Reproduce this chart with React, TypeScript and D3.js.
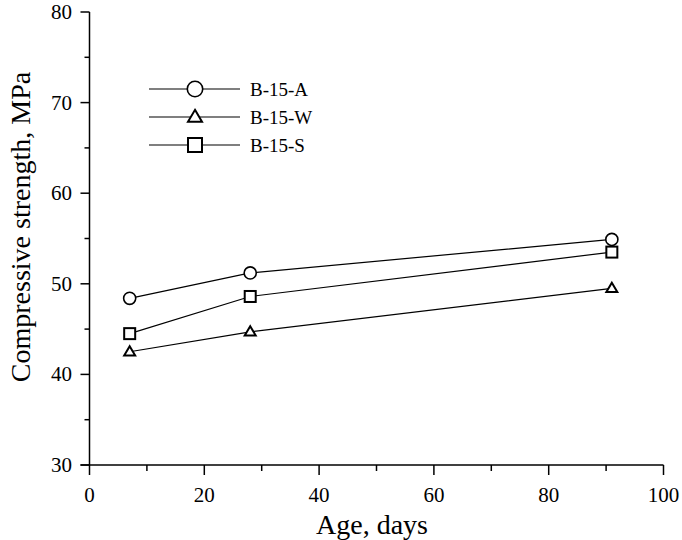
import React from "react";
import * as d3 from "d3";

const ages = [7, 28, 91];
const seriesA = [48.4, 51.2, 54.9];
const seriesW = [42.5, 44.7, 49.5];
const seriesS = [44.5, 48.6, 53.5];
const seriesNames = ["B-15-A", "B-15-W", "B-15-S"];
const xTicks = [0, 20, 40, 60, 80, 100];
const yTicks = [30, 40, 50, 60, 70, 80];

const W = 682, H = 540;
const left = 89.5, right = 663.5, top = 12, bottom = 465;

function Marker({ type, x, y, s }: { type: string; x: number; y: number; s: number }) {
  if (type === "circle") return <circle cx={x} cy={y} r={s * 0.55} fill="white" stroke="black" strokeWidth={1.6} />;
  if (type === "square") return <rect x={x - s / 2} y={y - s / 2} width={s} height={s} fill="white" stroke="black" strokeWidth={2} />;
  const h = s * 0.85;
  const path = d3.path();
  path.moveTo(x, y - h * 0.6);
  path.lineTo(x + s / 2, y + h * 0.4);
  path.lineTo(x - s / 2, y + h * 0.4);
  path.closePath();
  return <path d={path.toString()} fill="white" stroke="black" strokeWidth={2} />;
}

export default function App() {
  const x = d3.scaleLinear().domain([0, 100]).range([left, right]);
  const y = d3.scaleLinear().domain([30, 80]).range([bottom, top]);
  const series = [
    { name: seriesNames[0], vals: seriesA, type: "circle" },
    { name: seriesNames[1], vals: seriesW, type: "triangle" },
    { name: seriesNames[2], vals: seriesS, type: "square" },
  ];
  const line = d3.line<number>().x((_, i) => x(ages[i])).y((v) => y(v));
  const xMinor = d3.range(10, 100, 20);
  const yMinor = d3.range(35, 80, 10);
  const font = "'Liberation Serif', 'Times New Roman', serif";
  const legendY = [89, 117, 145];
  return (
    <svg width={W} height={H} style={{ position: "absolute", left: 0, top: 0, background: "white" }} fontFamily={font}>
      <rect width={W} height={H} fill="white" />
      {/* axes */}
      <line x1={left} x2={left} y1={top} y2={bottom} stroke="black" strokeWidth={1.5} />
      <line x1={left - 9} x2={right} y1={bottom} y2={bottom} stroke="black" strokeWidth={1.5} />
      {yTicks.map((t) => (
        <g key={"y" + t}>
          <line x1={left - 9} x2={left} y1={y(t)} y2={y(t)} stroke="black" strokeWidth={1.5} />
          <text x={72} y={y(t) + 7} textAnchor="end" fontSize={21}>{t}</text>
        </g>
      ))}
      {yMinor.map((t) => (
        <line key={"ym" + t} x1={left - 5} x2={left} y1={y(t)} y2={y(t)} stroke="black" strokeWidth={1.5} />
      ))}
      {xTicks.map((t) => (
        <g key={"x" + t}>
          <line x1={x(t)} x2={x(t)} y1={bottom} y2={bottom + 10} stroke="black" strokeWidth={1.5} />
          <text x={x(t)} y={502} textAnchor="middle" fontSize={21}>{t}</text>
        </g>
      ))}
      {xMinor.map((t) => (
        <line key={"xm" + t} x1={x(t)} x2={x(t)} y1={bottom} y2={bottom + 6} stroke="black" strokeWidth={1.5} />
      ))}
      <text x={372} y={534} textAnchor="middle" fontSize={28}>Age, days</text>
      <text transform={`translate(30, 227) rotate(-90)`} textAnchor="middle" fontSize={28}>Compressive strength, MPa</text>
      {/* series */}
      {series.map((s) => (
        <g key={s.name}>
          <path d={line(s.vals) || ""} fill="none" stroke="black" strokeWidth={1.2} />
          {s.vals.map((v, i) => (
            <Marker key={i} type={s.type} x={x(ages[i])} y={y(v)} s={11} />
          ))}
        </g>
      ))}
      {/* legend */}
      {series.map((s, i) => (
        <g key={"lg" + s.name}>
          <line x1={149} x2={240} y1={legendY[i]} y2={legendY[i]} stroke="black" strokeWidth={1.2} />
          <Marker type={s.type} x={195} y={legendY[i]} s={14} />
          <text x={250} y={legendY[i] + 7} fontSize={19}>{s.name}</text>
        </g>
      ))}
    </svg>
  );
}
